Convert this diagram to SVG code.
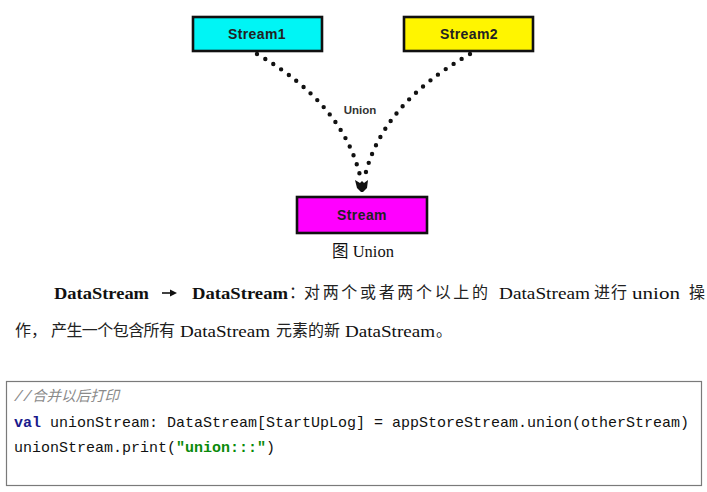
<svg xmlns="http://www.w3.org/2000/svg" width="707" height="492" viewBox="0 0 707 492">
<style>
.box{stroke:#111;stroke-width:2.6}
.lbl{font-family:"Liberation Sans",Arial,sans-serif;font-weight:bold;font-size:14px;fill:#222;text-anchor:middle;letter-spacing:0.4px}
.dots{fill:none;stroke:#111;stroke-width:4.4;stroke-linecap:round;stroke-dasharray:0 9.5}
.ser{font-family:"Liberation Serif","Noto Sans CJK SC",serif;font-size:16.5px;fill:#111}
.cjk{font-family:"Noto Sans CJK SC",sans-serif;font-size:16px;fill:#222}
.b{font-weight:bold}
.code{font-family:"Liberation Mono","DejaVu Sans Mono",monospace;font-size:15px;fill:#111}
</style>
<rect width="707" height="492" fill="#fff"/>
<g id="connectors">
<path class="dots" d="M257,54 Q345,105 361,180"/>
<path class="dots" d="M470,54 Q380,105 364,180"/>
<path d="M355,180 L360,183 L362,181 L364,183 L368,180 L367,188 L363,192 L361,192 L357,188 Z" fill="#111"/>
<text x="360" y="114" font-family="Liberation Sans,Arial,sans-serif" font-size="11.5" font-weight="bold" fill="#333" text-anchor="middle">Union</text>
</g>
<g id="stream1">
<rect class="box" x="193" y="17" width="129" height="34" fill="#00f5f5"/>
<text class="lbl" x="257" y="39">Stream1</text>
</g>
<g id="stream2">
<rect class="box" x="404" y="17" width="129" height="34" fill="#fff500"/>
<text class="lbl" x="469" y="39">Stream2</text>
</g>
<g id="stream">
<rect class="box" x="297" y="197" width="130" height="36" fill="#ff00ff"/>
<text class="lbl" x="362" y="220" fill="#333">Stream</text>
</g>
<text class="ser" x="363" y="257" font-size="13.5" text-anchor="middle">图 Union</text>
<g id="paragraph">
<text class="ser b" x="54" y="299" textLength="95" lengthAdjust="spacingAndGlyphs">DataStream</text>
<path d="M162,293 H171" stroke="#111" stroke-width="1.6"/>
<path d="M170,289.5 L177,293 L170,296.5 Z" fill="#111"/>
<text class="ser b" x="192" y="299" textLength="96" lengthAdjust="spacingAndGlyphs">DataStream</text>
<text class="cjk" x="289" y="298">：</text>
<text class="cjk" x="304" y="298" textLength="184">对两个或者两个以上的</text>
<text class="ser" x="499" y="299" textLength="91" lengthAdjust="spacingAndGlyphs">DataStream</text>
<text class="cjk" x="594" y="298" textLength="33">进行</text>
<text class="ser" x="632" y="299" textLength="48" lengthAdjust="spacingAndGlyphs">union</text>
<text class="cjk" x="689" y="298">操</text>
<text class="cjk" x="15" y="336">作，</text>
<text class="cjk" x="51" y="336" textLength="124">产生一个包含所有</text>
<text class="ser" x="180" y="337" textLength="90" lengthAdjust="spacingAndGlyphs">DataStream</text>
<text class="cjk" x="276" y="336" textLength="64">元素的新</text>
<text class="ser" x="345" y="337" textLength="90" lengthAdjust="spacingAndGlyphs">DataStream</text>
<text class="cjk" x="436" y="336">。</text>
</g>
<g id="codebox">
<rect x="6.5" y="381.5" width="695" height="104" fill="#fff" stroke="#7a7a7a" stroke-width="1.2"/>
<text x="14" y="401" font-family="Liberation Mono,monospace" font-size="15" font-style="italic" fill="#8a8a8a">//<tspan font-family="Noto Sans CJK SC,sans-serif" font-size="14.5">合并以后打印</tspan></text>
<text class="code" x="14" y="427"><tspan font-weight="bold" fill="#1a1a8c">val</tspan> unionStream: DataStream[StartUpLog] = appStoreStream.union(otherStream)</text>
<text class="code" x="14" y="452">unionStream.print(<tspan font-weight="bold" fill="#0a8a0a">"union:::"</tspan>)</text>
</g>
</svg>
